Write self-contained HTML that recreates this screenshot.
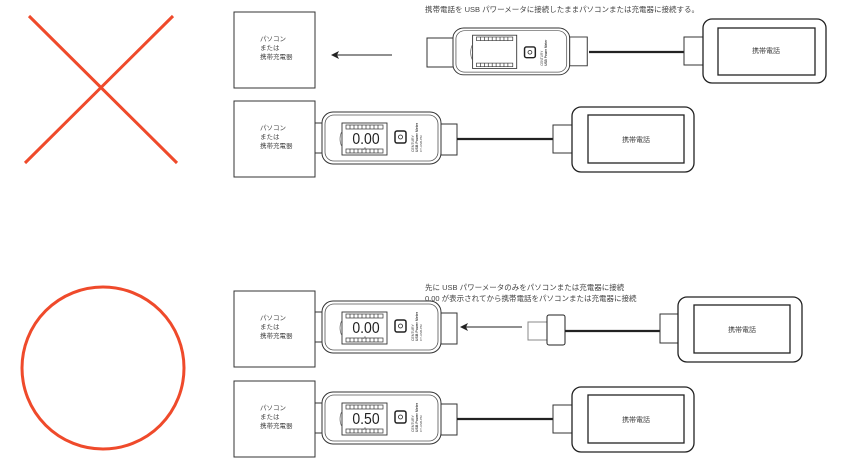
<!DOCTYPE html>
<html><head><meta charset="utf-8"><style>
html,body{margin:0;padding:0;background:#fff;}
svg{display:block;}
text{font-family:"Liberation Sans","Noto Sans CJK JP",sans-serif;fill:#444;}
</style></head><body>
<svg width="854" height="466" viewBox="0 0 854 466" xmlns="http://www.w3.org/2000/svg">
<defs>
<g id="meter">
  <rect x="119" y="12" width="16" height="31" fill="#fff" stroke="#333" stroke-width="1"/>
  <rect x="0" y="0" width="119" height="52" rx="11" fill="#fff" stroke="#333" stroke-width="1"/>
  <rect x="3" y="3" width="113" height="46" rx="9" fill="#fff" stroke="#555" stroke-width="0.8"/>
  <rect x="20" y="11" width="45" height="32" fill="#fff" stroke="#333" stroke-width="0.9"/>
  <path d="M20,19 Q16,27 20,35" fill="none" stroke="#666" stroke-width="0.7"/>
  <g stroke="#333" stroke-width="0.7" fill="none">
    <rect x="24" y="13" width="37" height="4"/>
    <rect x="24" y="37" width="37" height="4"/>
    <path d="M28,13v4M32,13v4M36,13v4M40,13v4M44,13v4M48,13v4M52,13v4M56,13v4"/>
    <path d="M28,37v4M32,37v4M36,37v4M40,37v4M44,37v4M48,37v4M52,37v4M56,37v4"/>
  </g>
  <rect x="73" y="19" width="11" height="12" rx="2" fill="#fff" stroke="#222" stroke-width="1.5"/>
  <circle cx="78.5" cy="25" r="2" fill="none" stroke="#222" stroke-width="0.8"/>
  <text font-size="3.5" transform="translate(92,40) rotate(-90)">CENTURY</text>
  <text font-size="3.5" font-weight="bold" transform="translate(96,40) rotate(-90)">USB Power Meter</text>
  <text font-size="3" transform="translate(100,40) rotate(-90)">CT-USB-PM</text>
</g>
<g id="phone2">
  <rect x="0" y="18" width="19" height="28" fill="#fff" stroke="#333" stroke-width="1"/>
  <rect x="19" y="0" width="122" height="65" rx="9" fill="#fff" stroke="#222" stroke-width="1.3"/>
  <rect x="35" y="8" width="96" height="48" fill="#fff" stroke="#222" stroke-width="1.3"/>
  <text x="83" y="35" font-size="7" text-anchor="middle">携帯電話</text>
</g>
<g id="pc">
  <rect x="0" y="0" width="81" height="76" fill="#fff" stroke="#333" stroke-width="1"/>
  <text x="26" y="29" font-size="6.5">パソコン</text>
  <text x="26" y="38" font-size="6.5">または</text>
  <text x="26" y="47" font-size="6.5">携帯充電器</text>
</g>
</defs>

<g stroke="#ef4a2b" stroke-width="3" fill="none">
  <line x1="29" y1="16" x2="177" y2="163"/>
  <line x1="173" y1="16" x2="25" y2="163"/>
  <circle cx="103" cy="368" r="81"/>
</g>

<text x="425" y="12" font-size="7.5">携帯電話を USB パワーメータに接続したままパソコンまたは充電器に接続する。</text>
<text x="425" y="290" font-size="7.5">先に USB パワーメータのみをパソコンまたは充電器に接続</text>
<text x="425" y="301" font-size="7.5">0.00 が表示されてから携帯電話をパソコンまたは充電器に接続</text>

<!-- Row A -->
<use href="#pc" x="234" y="12"/>
<line x1="392" y1="55" x2="334" y2="55" stroke="#222" stroke-width="1"/>
<path d="M331,55 L339,51 L337,55 L339,59 Z" fill="#222"/>
<rect x="427" y="38" width="28" height="29" fill="#fff" stroke="#333" stroke-width="1"/>
<g transform="translate(453,28) scale(0.98,0.9)">
  <rect x="119" y="10" width="18" height="32" fill="#fff" stroke="#333" stroke-width="1"/>
  <rect x="0" y="0" width="119" height="52" rx="11" fill="#fff" stroke="#333" stroke-width="1"/>
  <rect x="3" y="3" width="113" height="46" rx="9" fill="#fff" stroke="#555" stroke-width="0.8"/>
  <rect x="20" y="8" width="45" height="37" fill="#fff" stroke="#333" stroke-width="0.9"/>
  <path d="M20,18 Q16,27 20,36" fill="none" stroke="#666" stroke-width="0.7"/>
  <g stroke="#333" stroke-width="0.7" fill="none">
    <rect x="24" y="10" width="37" height="4"/>
    <rect x="24" y="39" width="37" height="4"/>
    <path d="M28,10v4M32,10v4M36,10v4M40,10v4M44,10v4M48,10v4M52,10v4M56,10v4M28,39v4M32,39v4M36,39v4M40,39v4M44,39v4M48,39v4M52,39v4M56,39v4"/>
  </g>
  <rect x="73" y="21" width="11" height="12" rx="2" fill="#fff" stroke="#222" stroke-width="1.5"/>
  <circle cx="78.5" cy="27" r="2" fill="none" stroke="#222" stroke-width="0.8"/>
  <text font-size="3.5" transform="translate(92,42) rotate(-90)">CENTURY</text>
  <text font-size="3.5" font-weight="bold" transform="translate(96,42) rotate(-90)">USB Power Meter</text>
</g>
<line x1="589" y1="52" x2="684" y2="52" stroke="#222" stroke-width="2.2"/>
<rect x="684" y="37" width="19" height="28" fill="#fff" stroke="#333" stroke-width="1"/>
<rect x="703" y="19" width="123" height="64" rx="9" fill="#fff" stroke="#222" stroke-width="1.3"/>
<rect x="718" y="28" width="97" height="47" fill="#fff" stroke="#222" stroke-width="1.3"/>
<text x="766" y="53" font-size="7" text-anchor="middle">携帯電話</text>

<!-- Row B -->
<g stroke="#333" stroke-width="1"><line x1="315" y1="123" x2="323" y2="123"/><line x1="315" y1="153" x2="323" y2="153"/></g>
<use href="#pc" x="234" y="101"/>
<g transform="translate(322,112)"><use href="#meter"/><text x="44" y="32" font-size="14" text-anchor="middle" font-family="Liberation Mono" style="fill:#222" transform="translate(44,32) scale(1,1.1) translate(-44,-32)">0.00</text><text x="43" y="38" font-size="4.5" text-anchor="middle">A</text></g>
<line x1="457" y1="139" x2="553" y2="139" stroke="#222" stroke-width="2.2"/>
<use href="#phone2" x="553" y="107"/>

<!-- Row C -->
<g stroke="#333" stroke-width="1"><line x1="315" y1="312" x2="323" y2="312"/><line x1="315" y1="342" x2="323" y2="342"/></g>
<use href="#pc" x="234" y="291"/>
<g transform="translate(322,301)"><use href="#meter"/><text x="44" y="32" font-size="14" text-anchor="middle" font-family="Liberation Mono" style="fill:#222" transform="translate(44,32) scale(1,1.1) translate(-44,-32)">0.00</text><text x="43" y="38" font-size="4.5" text-anchor="middle">A</text></g>
<line x1="522" y1="327" x2="464" y2="327" stroke="#222" stroke-width="1"/>
<path d="M460,327 L468,323 L466,327 L468,331 Z" fill="#222"/>
<rect x="528" y="322" width="19" height="18" fill="#fff" stroke="#888" stroke-width="1"/>
<rect x="547" y="315" width="18" height="30" rx="2" fill="#fff" stroke="#222" stroke-width="1"/>
<line x1="565" y1="331" x2="660" y2="331" stroke="#222" stroke-width="2.2"/>
<rect x="660" y="314" width="18" height="29" fill="#fff" stroke="#333" stroke-width="1"/>
<rect x="678" y="297" width="124" height="65" rx="9" fill="#fff" stroke="#222" stroke-width="1.3"/>
<rect x="694" y="305" width="96" height="48" fill="#fff" stroke="#222" stroke-width="1.3"/>
<text x="742" y="332" font-size="7" text-anchor="middle">携帯電話</text>

<!-- Row D -->
<g stroke="#333" stroke-width="1"><line x1="315" y1="403" x2="323" y2="403"/><line x1="315" y1="433" x2="323" y2="433"/></g>
<use href="#pc" x="234" y="381"/>
<g transform="translate(322,392)"><use href="#meter"/><text x="44" y="32" font-size="14" text-anchor="middle" font-family="Liberation Mono" style="fill:#222" transform="translate(44,32) scale(1,1.1) translate(-44,-32)">0.50</text><text x="43" y="38" font-size="4.5" text-anchor="middle">A</text></g>
<line x1="457" y1="419" x2="553" y2="419" stroke="#222" stroke-width="2.2"/>
<use href="#phone2" x="553" y="387"/>
</svg>
</body></html>
